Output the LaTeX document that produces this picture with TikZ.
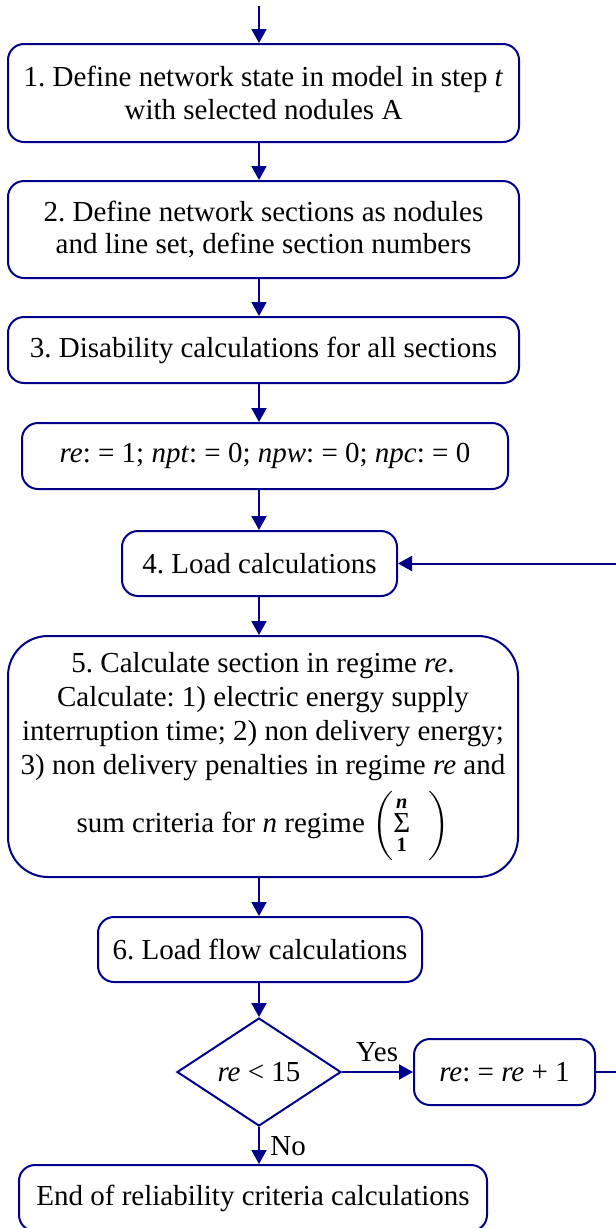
\documentclass[tikz,border=0pt]{standalone}
\usepackage{fontspec}
\usepackage{amsmath}
\setmainfont{Liberation Serif}
\usetikzlibrary{arrows.meta,shapes.geometric}
\definecolor{navy}{RGB}{0,0,139}
\frenchspacing
\begin{document}
\begin{tikzpicture}[x=0.5pt,y=-0.5pt,
  box/.style={draw=navy,line width=1pt,rounded corners=8pt,align=center,inner sep=0pt,font=\fontsize{14.5}{16.4}\selectfont},
  arr/.style={draw=navy,line width=1pt,-{Triangle[length=7pt,width=7.5pt]}},
  lab/.style={font=\fontsize{14.5}{16.4}\selectfont,inner sep=0pt}]
\useasboundingbox (0,0) rectangle (616,1228);
\coordinate (sp) at (259,6);
\coordinate (rt) at (626,0);
\node[box,minimum width=255.5pt,minimum height=49pt] (b1) at (263.5,93) {1. Define network state in model in step \textit{t}\\with selected nodules A};
\node[box,minimum width=255.5pt,minimum height=48.5pt] (b2) at (263.5,229.5) {2. Define network sections as nodules\\and line set, define section numbers};
\node[box,minimum width=255.5pt,minimum height=33pt] (b3) at (263.5,350) {3. Disability calculations for all sections};
\node[box,minimum width=243pt,minimum height=33pt] (b0) at (265,456) {\textit{re}: = 1; \textit{npt}: = 0; \textit{npw}: = 0; \textit{npc}: = 0};
\node[box,minimum width=137.5pt,minimum height=32.5pt] (b4) at (259.5,563.5) {4. Load calculations};
\node[box,rounded corners=20pt,minimum width=255pt,minimum height=120.5pt,font=\fontsize{14.5}{17}\selectfont] (b5) at (263,756.5) {5. Calculate section in regime \textit{re}.\\Calculate: 1) electric energy supply\\interruption time; 2) non delivery energy;\\3) non delivery penalties in regime \textit{re} and\\[4pt]sum criteria for \textit{n} regime $\left(\mathop{\text{Σ}}\limits^{\text{\bfseries\itshape n}}_{\text{\bfseries 1}}\hspace{9pt}\right)$};
\node[box,minimum width=162pt,minimum height=32.5pt] (b6) at (260,949.5) {6. Load flow calculations};
\node[draw=navy,line width=1pt,shape=diamond,aspect=1.52,inner sep=0pt,minimum width=82pt,minimum height=54pt,font=\fontsize{14.5}{16.4}\selectfont] (dec) at (259,1072) {\textit{re} < 15};
\node[box,minimum width=90.5pt,minimum height=33pt] (inc) at (504.5,1072) {\textit{re}: = \textit{re} + 1};
\node[box,minimum width=234pt,minimum height=33pt] (end) at (253,1198) {End of reliability criteria calculations};
\node[lab,anchor=base] (yes) at (377,1061) {Yes};
\node[lab,anchor=base west] (no) at (270,1155) {No};
\draw[arr] (sp) -- (b1.north -| sp);
\draw[arr] (b1.south -| sp) -- (b2.north -| sp);
\draw[arr] (b2.south -| sp) -- (b3.north -| sp);
\draw[arr] (b3.south -| sp) -- (b0.north -| sp);
\draw[arr] (b0.south -| sp) -- (b4.north -| sp);
\draw[arr] (b4.south -| sp) -- (b5.north -| sp);
\draw[arr] (b5.south -| sp) -- (b6.north -| sp);
\draw[arr] (b6.south -| sp) -- (dec.north);
\draw[arr] (dec.east) -- (inc.west);
\draw[arr] (dec.south) -- (end.north -| dec.south);
\draw[arr] (inc.east) -- (inc.east -| rt) |- (b4.east);
\end{tikzpicture}
\end{document}
